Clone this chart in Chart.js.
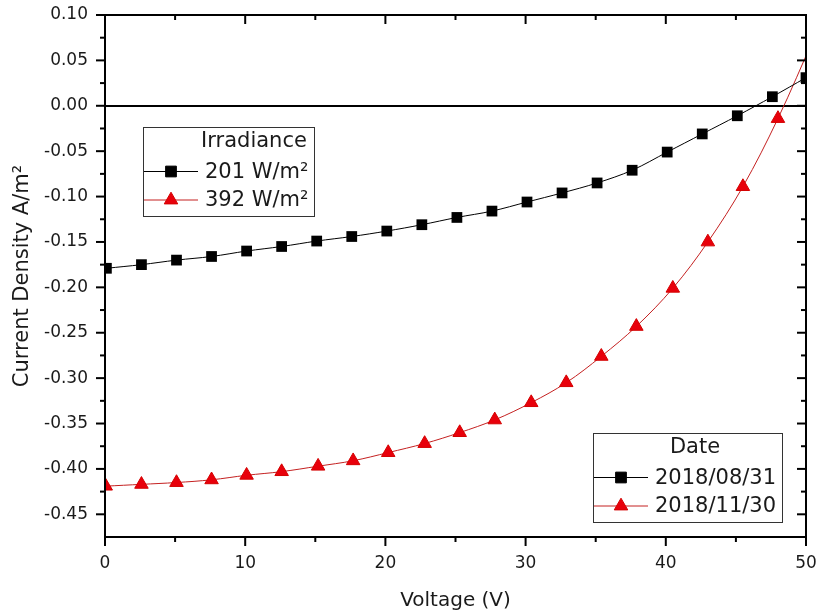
<!DOCTYPE html>
<html><head><meta charset="utf-8">
<script src="https://cdn.jsdelivr.net/npm/chart.js@4/dist/chart.umd.min.js"></script>
<style>html,body{margin:0;padding:0;background:#fff;}canvas{display:block;}</style>
</head><body>
<canvas id="c" width="819" height="616"></canvas>
<script>
// ---- data ----
const voltageA = [0.1, 2.6, 5.1, 7.6, 10.1, 12.6, 15.1, 17.6, 20.1, 22.6, 25.1, 27.6, 30.1, 32.6, 35.1, 37.6, 40.1, 42.6, 45.1, 47.6, 50.0];
const currentA = [-0.179, -0.175, -0.170, -0.166, -0.160, -0.155, -0.149, -0.144, -0.138, -0.131, -0.123, -0.116, -0.106, -0.096, -0.085, -0.071, -0.051, -0.031, -0.011, 0.010, 0.031];
const voltageB = [0.05, 2.6, 5.1, 7.6, 10.1, 12.6, 15.2, 17.7, 20.2, 22.8, 25.3, 27.8, 30.4, 32.9, 35.4, 37.9, 40.5, 43.0, 45.5, 48.0, 50.6];
const currentB = [-0.419, -0.417, -0.415, -0.412, -0.407, -0.403, -0.397, -0.391, -0.382, -0.372, -0.360, -0.346, -0.327, -0.305, -0.276, -0.243, -0.201, -0.150, -0.089, -0.014, 0.076];
const irradianceLabels = ['201 W/m²', '392 W/m²'];
const dateLabels = ['2018/08/31', '2018/11/30'];
const legendTitles = ['Irradiance', 'Date'];
const xTickValues = [0, 10, 20, 30, 40, 50];
const yTickValues = [0.10, 0.05, 0.00, -0.05, -0.10, -0.15, -0.20, -0.25, -0.30, -0.35, -0.40, -0.45];
const xTitle = 'Voltage (V)';
const yTitle = 'Current Density A/m²';

const FONT = '"DejaVu Sans", sans-serif';
const TXT = '#1a1a1a';

const toPoints = (xs, ys) => xs.map((v, i) => ({x: v, y: ys[i]}));

const styles = [
  {line: '#000000', fill: '#000000', edge: '#000000', shape: 'rect', r: 7.6},
  {line: '#c42020', fill: '#e8000b', edge: '#d40000', shape: 'triangle', r: 7.8}
];

const framePlugin = {
  id: 'frame',
  afterDatasetsDraw(chart) {
    const {ctx, chartArea: a, scales: {x, y}} = chart;
    ctx.save();
    ctx.strokeStyle = '#000';
    ctx.lineWidth = 2;
    ctx.strokeRect(a.left, a.top, a.right - a.left, a.bottom - a.top);
    const seg = (x1, y1, x2, y2) => { ctx.beginPath(); ctx.moveTo(x1, y1); ctx.lineTo(x2, y2); ctx.stroke(); };
    for (let k = 0; k <= 10; k++) {
      const v = k * 5;
      const px = x.getPixelForValue(v);
      const L = k % 2 === 0 ? 9 : 5;
      seg(px, a.bottom, px, a.bottom + L);
      seg(px, a.top, px, a.top + L);
    }
    for (let k = 0; k <= 22; k++) {
      const v = 0.10 - k * 0.025;
      const py = y.getPixelForValue(v);
      const L = k % 2 === 0 ? 9 : 5;
      seg(a.left - L, py, a.left, py);
      seg(a.right - L, py, a.right, py);
    }
    ctx.restore();
  }
};

function drawMarker(ctx, st, cx, cy) {
  ctx.save();
  ctx.fillStyle = st.fill;
  ctx.strokeStyle = st.edge;
  ctx.lineWidth = 1;
  if (Chart.helpers && Chart.helpers.drawPoint) {
    Chart.helpers.drawPoint(ctx, {pointStyle: st.shape, radius: st.r, rotation: 0, borderWidth: 1}, cx, cy);
  }
  ctx.restore();
}

const legendPlugin = {
  id: 'boxLegends',
  afterDraw(chart) {
    const ctx = chart.ctx;
    const boxes = [
      {x: 143, y: 127, w: 171, h: 89, tx: 254, title: legendTitles[0], labels: irradianceLabels},
      {x: 593, y: 433, w: 189, h: 89, tx: 695, title: legendTitles[1], labels: dateLabels}
    ];
    ctx.save();
    boxes.forEach(b => {
      ctx.fillStyle = '#fff';
      ctx.fillRect(b.x, b.y, b.w, b.h);
      ctx.strokeStyle = '#333';
      ctx.lineWidth = 1;
      ctx.strokeRect(b.x + 0.5, b.y + 0.5, b.w, b.h);
      ctx.font = '21px ' + FONT;
      ctx.fillStyle = TXT;
      ctx.textAlign = 'center';
      ctx.textBaseline = 'middle';
      ctx.fillText(b.title, b.tx, b.y + 15);
      b.labels.forEach((lab, i) => {
        const ry = b.y + 44.5 + i * 28.5;
        const st = styles[i];
        ctx.strokeStyle = st.line;
        ctx.lineWidth = 1;
        ctx.beginPath(); ctx.moveTo(b.x + 1, ry); ctx.lineTo(b.x + 55, ry); ctx.stroke();
        drawMarker(ctx, st, b.x + 28, ry);
        ctx.font = '21px ' + FONT;
        ctx.fillStyle = TXT;
        ctx.textAlign = 'left';
        ctx.textBaseline = 'middle';
        ctx.fillText(lab, b.x + 62, ry + 1);
      });
    });
    ctx.restore();
  }
};

new Chart(document.getElementById('c'), {
  type: 'scatter',
  data: {
    datasets: [
      {
        label: irradianceLabels[0],
        data: toPoints(voltageA, currentA),
        showLine: true,
        borderColor: styles[0].line, borderWidth: 1,
        backgroundColor: styles[0].fill,
        pointStyle: styles[0].shape, pointRadius: styles[0].r,
        pointBackgroundColor: styles[0].fill, pointBorderColor: styles[0].edge, pointBorderWidth: 0,
        tension: 0.35
      },
      {
        label: irradianceLabels[1],
        data: toPoints(voltageB, currentB),
        showLine: true,
        borderColor: styles[1].line, borderWidth: 1,
        backgroundColor: styles[1].fill,
        pointStyle: styles[1].shape, pointRadius: styles[1].r,
        pointBackgroundColor: styles[1].fill, pointBorderColor: styles[1].edge, pointBorderWidth: 1,
        tension: 0.35
      }
    ]
  },
  options: {
    responsive: false,
    devicePixelRatio: 1,
    animation: false,
    events: [],
    layout: {padding: {top: 15, right: 13, left: 0, bottom: 0}},
    plugins: {legend: {display: false}, tooltip: {enabled: false}},
    scales: {
      x: {
        type: 'linear', min: 0, max: 50,
        afterBuildTicks: s => { s.ticks = xTickValues.map(v => ({value: v})); },
        afterFit: s => { s.height = 79; s.paddingLeft = 0; s.paddingRight = 0; s.paddingTop = 0; s.paddingBottom = 0; },
        border: {display: false},
        grid: {drawOnChartArea: false, drawTicks: false},
        ticks: {font: {family: FONT, size: 17}, color: TXT, padding: 16, maxRotation: 0},
        title: {display: true, text: xTitle, font: {family: FONT, size: 20}, color: TXT, padding: {top: 0, bottom: 3}}
      },
      y: {
        type: 'linear', min: -0.475, max: 0.10,
        afterBuildTicks: s => { s.ticks = yTickValues.map(v => ({value: v})); },
        afterFit: s => { s.width = 105; s.paddingLeft = 0; s.paddingRight = 0; s.paddingTop = 0; s.paddingBottom = 0; },
        border: {display: false},
        grid: {
          drawTicks: false,
          lineWidth: 2,
          color: c => (c.tick && Math.abs(c.tick.value) < 1e-9) ? '#000' : 'rgba(0,0,0,0)'
        },
        ticks: {font: {family: FONT, size: 17}, color: TXT, padding: 17, callback: v => Number(v).toFixed(2)},
        title: {display: true, text: yTitle, font: {family: FONT, size: 21}, color: TXT, padding: {top: 10, bottom: 0}}
      }
    }
  },
  plugins: [framePlugin, legendPlugin]
});
</script>
</body></html>
